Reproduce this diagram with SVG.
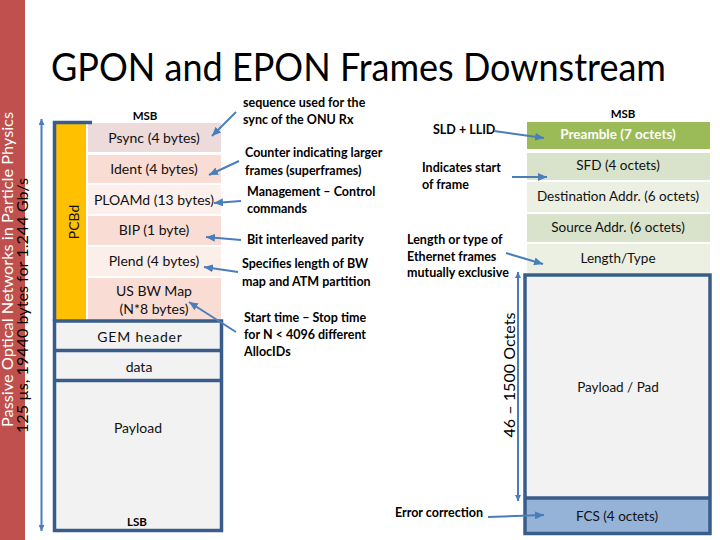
<svg xmlns="http://www.w3.org/2000/svg" width="720" height="540" viewBox="0 0 720 540">
<style>
.cell{font-family:Lato,"Open Sans",sans-serif;font-size:14px;fill:#111;text-anchor:middle;dominant-baseline:central}
.rc{font-family:Lato,"Open Sans",sans-serif;font-size:13.5px;fill:#111;text-anchor:middle;dominant-baseline:central}
.note{font-family:Lato,"Open Sans",sans-serif;font-weight:700;font-size:12.5px;fill:#000}
.lbl{font-family:Lato,"Open Sans",sans-serif;font-weight:700;font-size:11.5px;fill:#000;text-anchor:middle;dominant-baseline:central}
.frame{fill:none;stroke:#385D8A;stroke-width:3.5}
.arr{stroke:#4A7EBB;stroke-width:2;fill:none;marker-end:url(#ah)}
.varr{stroke:#4A7EBB;stroke-width:2;fill:none;marker-end:url(#vh);marker-start:url(#vh)}
</style>
<defs>
<marker id="ah" markerUnits="userSpaceOnUse" markerWidth="9" markerHeight="8" refX="9" refY="4" orient="auto"><path d="M0,0 L9,4 L0,8 z" fill="#4A7EBB"/></marker>
<marker id="vh" markerUnits="userSpaceOnUse" markerWidth="6" markerHeight="6" refX="6" refY="3" orient="auto-start-reverse"><path d="M0,0 L6,3 L0,6 z" fill="#4A7EBB"/></marker>
</defs>
<rect width="720" height="540" fill="#fff"/>
<g id="sidebar">
<rect x="0" y="0" width="25" height="540" fill="#C0504D"/>
<text transform="translate(13,427) rotate(-90)" font-family="Lato,'Open Sans',sans-serif" font-size="15" fill="#fff" textLength="315" lengthAdjust="spacingAndGlyphs">Passive Optical Networks in Particle Physics</text>
<text transform="translate(28,433) rotate(-90)" font-family="Lato,'Open Sans',sans-serif" font-size="15" fill="#000" textLength="255" lengthAdjust="spacingAndGlyphs">125 µs, 19440 bytes for 1.244 Gb/s</text>
</g>
<g id="title">
<text x="51" y="81" font-family="Lato,'Open Sans',sans-serif" font-size="39" fill="#000" textLength="615" lengthAdjust="spacingAndGlyphs">GPON and EPON Frames Downstream</text>
</g>
<g id="gpon-frame">
<rect x="56" y="124" width="30" height="197" fill="#FFC000"/>
<text class="cell" transform="translate(73,222) rotate(-90)">PCBd</text>
<text class="lbl" x="145" y="115">MSB</text>
<g id="psync"><rect x="88" y="123" width="133" height="29" fill="#EDDADA"/><text class="cell" x="154" y="137">Psync  (4 bytes)</text></g>
<g id="ident"><rect x="88" y="155" width="133" height="28" fill="#F9DCD3"/><text class="cell" x="154" y="168">Ident  (4 bytes)</text></g>
<g id="ploamd"><rect x="88" y="185" width="133" height="29" fill="#FDF0EC"/><text class="cell" x="154" y="199">PLOAMd (13 bytes)</text></g>
<g id="bip"><rect x="88" y="216" width="133" height="29" fill="#F9DDD4"/><text class="cell" x="154" y="229">BIP (1 byte)</text></g>
<g id="plend"><rect x="88" y="247" width="133" height="29" fill="#FCEEE9"/><text class="cell" x="154" y="260">Plend (4 bytes)</text></g>
<g id="usbw"><rect x="88" y="278" width="133" height="42" fill="#F9DDD4"/><text class="cell" x="154" y="290">US BW Map</text><text class="cell" x="154" y="308">(N*8 bytes)</text></g>
<rect x="54.5" y="321" width="167" height="209.5" fill="#F2F2F2"/>
<path class="frame" d="M92,122.5 H54.5 V321"/>
<rect class="frame" x="54.5" y="321" width="167" height="209.5"/>
<line class="frame" x1="54.5" y1="350.5" x2="221.5" y2="350.5"/>
<line class="frame" x1="54.5" y1="380.5" x2="221.5" y2="380.5"/>
<g id="gem"><text class="cell" x="140" y="336" font-size="15.5" letter-spacing="0.8">GEM header</text></g>
<g id="data"><text class="cell" x="139" y="366" font-size="15.5">data</text></g>
<g id="payload"><text class="cell" x="138" y="427" font-size="16">Payload</text></g>
<text class="lbl" x="137" y="521">LSB</text>
</g>
<g id="gpon-notes">
<text class="note" x="243" y="107">sequence used for the</text>
<text class="note" x="243" y="124">sync of the ONU Rx</text>
<text class="note" x="245" y="157">Counter indicating larger</text>
<text class="note" x="245" y="175">frames (superframes)</text>
<text class="note" x="247" y="196">Management – Control</text>
<text class="note" x="247" y="213">commands</text>
<text class="note" x="247" y="244">Bit interleaved parity</text>
<text class="note" x="242" y="268">Specifies length of BW</text>
<text class="note" x="242" y="286">map and ATM partition</text>
<text class="note" x="244" y="322">Start time – Stop time</text>
<text class="note" x="244" y="339">for N &lt; 4096 different</text>
<text class="note" x="244" y="356">AllocIDs</text>
</g>
<g id="epon-frame">
<text class="lbl" x="623" y="113">MSB</text>
<g id="preamble"><rect x="527" y="122" width="183" height="27" fill="#9BBB59"/><text class="rc" x="618" y="134" style="fill:#fff;font-weight:700">Preamble (7 octets)</text></g>
<g id="sfd"><rect x="527" y="153" width="183" height="27" fill="#D9E3CC"/><text class="rc" x="618" y="165">SFD (4 octets)</text></g>
<g id="dest"><rect x="527" y="182" width="183" height="30" fill="#EBF0E3"/><text class="rc" x="618" y="196">Destination Addr. (6 octets)</text></g>
<g id="src"><rect x="527" y="214" width="183" height="28" fill="#D9E3CC"/><text class="rc" x="618" y="227">Source Addr. (6 octets)</text></g>
<g id="lentype"><rect x="527" y="244" width="183" height="29" fill="#EBF0E3"/><text class="rc" x="618" y="258">Length/Type</text></g>
<rect x="525" y="275" width="185" height="223" fill="#F2F2F2"/>
<rect x="525" y="498" width="185" height="35.5" fill="#95B3D7"/>
<rect class="frame" x="525" y="275" width="185" height="258.5"/>
<line class="frame" x1="525" y1="498" x2="710" y2="498"/>
<g id="payloadpad"><text class="rc" x="618" y="387" font-size="15.5">Payload / Pad</text></g>
<g id="fcs"><text class="rc" x="617" y="516" font-size="15.5">FCS (4 octets)</text></g>
<text transform="translate(508,375) rotate(-90)" font-family="Lato,'Open Sans',sans-serif" font-size="16" fill="#000" text-anchor="middle" dominant-baseline="central" textLength="125" lengthAdjust="spacingAndGlyphs">46 – 1500 Octets</text>
</g>
<g id="epon-notes">
<text class="note" x="433" y="134">SLD + LLID</text>
<text class="note" x="422" y="172">Indicates  start</text>
<text class="note" x="422" y="189">of frame</text>
<text class="note" x="407" y="244">Length or type of</text>
<text class="note" x="407" y="261">Ethernet frames</text>
<text class="note" x="407" y="277">mutually exclusive</text>
<text class="note" x="395" y="517">Error correction</text>
</g>
<g id="connectors">
<line class="varr" x1="41.5" y1="119" x2="41.5" y2="531"/>
<line class="varr" x1="518" y1="272" x2="518" y2="501"/>
<line class="arr" x1="236" y1="112" x2="212" y2="136"/>
<line class="arr" x1="239" y1="161" x2="209" y2="175"/>
<line class="arr" x1="241" y1="201" x2="214" y2="203"/>
<line class="arr" x1="241" y1="240" x2="206" y2="237"/>
<line class="arr" x1="238" y1="272" x2="204" y2="267"/>
<line class="arr" x1="236" y1="332" x2="189" y2="302"/>
<line class="arr" x1="494" y1="131" x2="544" y2="138"/>
<line class="arr" x1="512" y1="177" x2="547" y2="177"/>
<line class="arr" x1="506" y1="253" x2="543" y2="264"/>
<line class="arr" x1="488" y1="517" x2="544" y2="515"/>
</g>
</svg>
